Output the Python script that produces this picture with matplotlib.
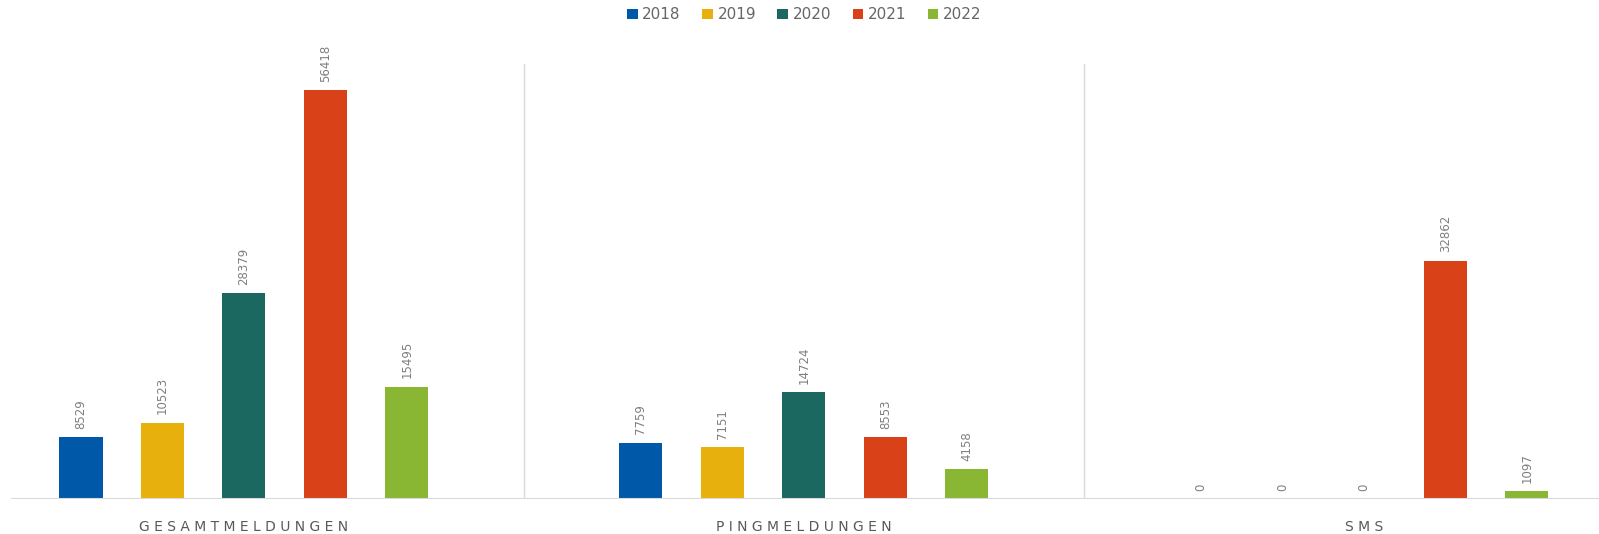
import numpy as np
import matplotlib.pyplot as plt

categories = ['GESAMTMELDUNGEN', 'PINGMELDUNGEN', 'SMS']
years = ['2018', '2019', '2020', '2021', '2022']
values = {
    '2018': [8529, 7759, 0],
    '2019': [10523, 7151, 0],
    '2020': [28379, 14724, 0],
    '2021': [56418, 8553, 32862],
    '2022': [15495, 4158, 1097],
}
colors = ['#0058A8', '#E8B00C', '#1A6860', '#D94118', '#89B733']

fig = plt.figure(figsize=(15.99, 5.34), dpi=100)
ax = fig.add_axes([11 / 1599, 35 / 534, 1588 / 1599, 435 / 534])

x = np.arange(len(categories))
step = 0.1455
width = 0.077
for i, (yr, col) in enumerate(zip(years, colors)):
    pos = x + (i - 2) * step
    ax.bar(pos, values[yr], width, color=col, label=yr, zorder=3)
    for xb, v in zip(pos, values[yr]):
        ax.annotate(str(v), (xb, v), xytext=(0, 6), textcoords='offset points',
                    rotation=90, ha='center', va='bottom', fontsize=8.5,
                    color='#7f7f7f')

ax.set_ylim(0, 60000)
ax.set_xlim(-0.416, 2.42)
for sep in [0.5, 1.5]:
    ax.axvline(sep, color='#d9d9d9', lw=1, zorder=1)
ax.axhline(0, color='#d9d9d9', lw=1.5, zorder=4)

ax.set_xticks(x)
ax.set_xticklabels([' '.join(c) for c in categories], fontsize=10, color='#595959')
ax.tick_params(axis='x', length=0, pad=15)
ax.set_yticks([])
for s in ax.spines.values():
    s.set_visible(False)

fig.legend(loc='upper center', ncol=5, frameon=False, bbox_to_anchor=(0.503, 1.012),
           handlelength=0.7, handleheight=0.7, handletextpad=0.3, columnspacing=1.4,
           fontsize=11, labelcolor='#666666')

fig.savefig('out.png', dpi=100)
